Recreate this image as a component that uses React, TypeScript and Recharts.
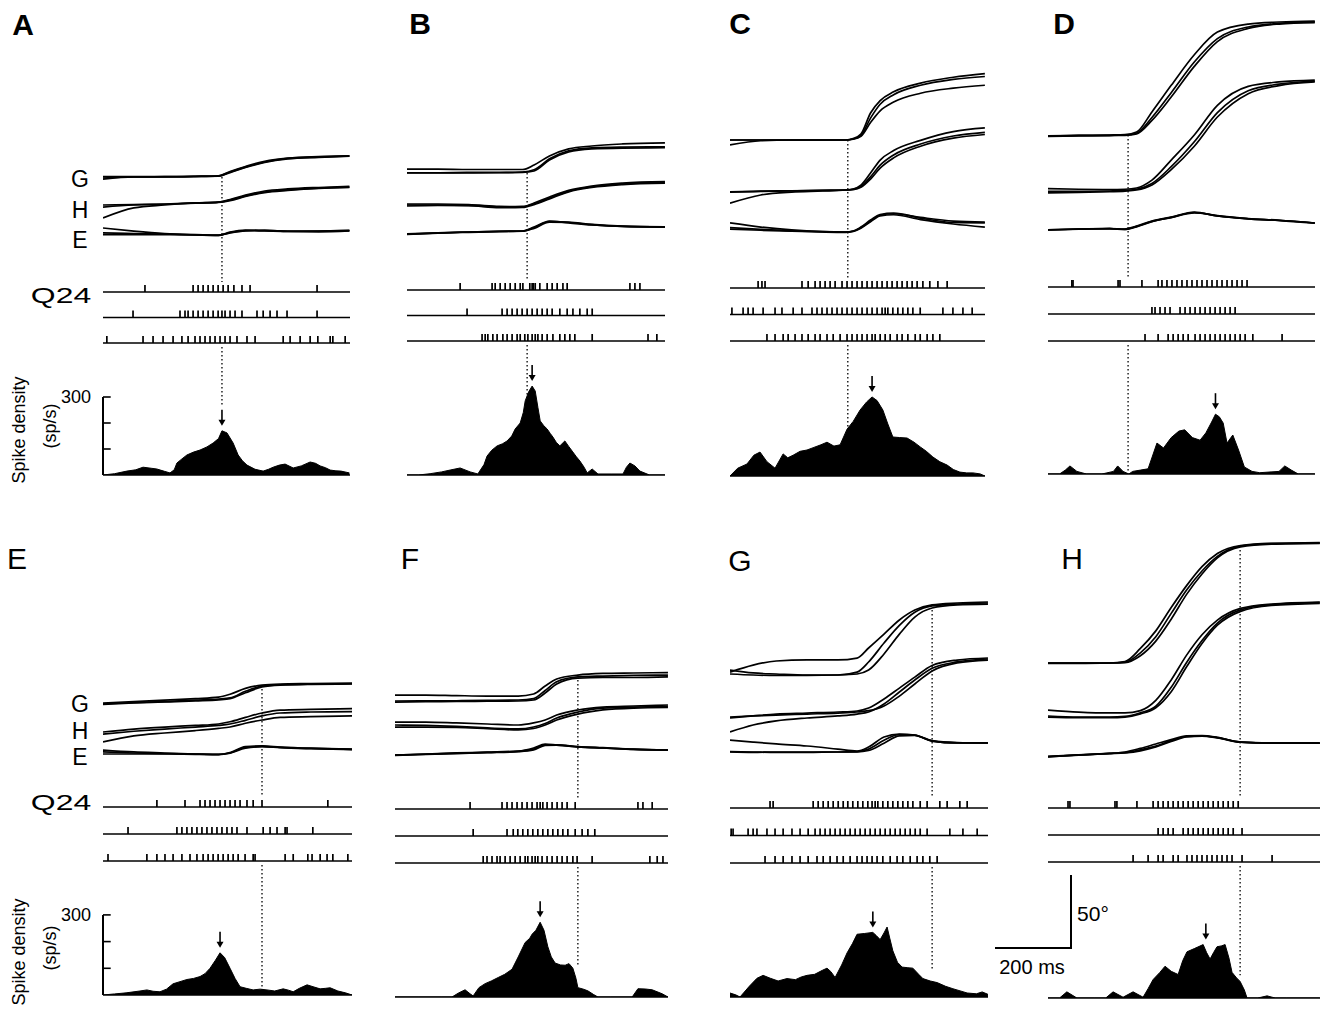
import React from "react"
import {
  LineChart, Line, ScatterChart, Scatter, AreaChart, Area,
  XAxis, YAxis, ReferenceLine, ReferenceDot,
} from "recharts"

const FONT = '"Liberation Sans", Arial, Helvetica, sans-serif'
const MS_PX = 0.385 // px per ms (200 ms scale bar)
const DEG_PX = 1.46 // px per degree (50 deg scale bar)
const M = 3

// ---------- A ----------
const aTime = [0, 80, 160, 240, 300, 330, 370, 420, 480, 560, 640]
const aGaze = [
  [-0.7, 0, 0, 0.3, 0.7, 3.4, 6.8, 10.3, 12.7, 13.7, 14.4],
  [-1.4, 0, 0.2, 0.4, 0.5, 3.0, 6.5, 10.0, 12.4, 13.5, 14.3],
  [0.3, 0.2, 0.3, 0.5, 0.8, 3.8, 7.2, 10.8, 13.0, 14.0, 14.5],
]
const aHead = [
  [-8.9, -2.0, 0, 1.4, 2.0, 3.4, 6.2, 8.9, 10.3, 11.6, 12.3],
  [0, 0.3, 0.7, 1.4, 2.0, 3.8, 6.8, 9.6, 11.0, 12.0, 12.7],
  [-1.4, 0, 0.5, 1.2, 1.8, 3.0, 5.8, 8.5, 10.0, 11.4, 12.0],
]
const aEye = [
  [4.8, 2.7, 1.0, 0, -0.3, 2.0, 3.4, 3.1, 2.7, 2.7, 3.1],
  [1.4, 1.0, 0.7, 0.3, 0, 1.6, 3.0, 2.8, 2.5, 2.7, 3.0],
  [0.3, 0.2, 0.2, 0, -0.2, 1.4, 2.8, 3.2, 2.4, 2.2, 2.8],
]
const aSpikes = [
  [109, 234, 247, 260, 273, 286, 299, 312, 325, 340, 361, 382, 556],
  [78, 200, 213, 221, 234, 247, 260, 273, 286, 299, 309, 317, 330, 343, 361, 400, 416, 434, 452, 478, 556],
  [10, 104, 130, 156, 182, 205, 221, 239, 252, 265, 278, 291, 304, 317, 330, 348, 374, 395, 468, 486, 512, 538, 558, 590, 597, 629],
]
const aDensT = [0, 30, 62, 85, 104, 125, 140, 160, 174, 185, 192, 205, 218, 235, 252, 270, 286, 300, 309, 322, 338, 351, 362, 374, 395, 416, 430, 442, 458, 473, 494, 515, 538, 552, 564, 578, 590, 605, 618, 640]
const aDensV = [0, 5, 15, 20, 30, 26, 23, 14, 8, 20, 46, 62, 77, 88, 96, 108, 123, 140, 170, 162, 123, 77, 55, 38, 22, 15, 22, 30, 38, 42, 27, 35, 50, 45, 35, 28, 19, 16, 15, 8]
const aArrow = { t: 309, v: 170 }

// ---------- B ----------
const bTime = [0, 80, 160, 240, 300, 330, 370, 420, 480, 560, 670]
const bGaze = [
  [2, 2, 1.7, 1.7, 1.7, 4.8, 11, 15.8, 17.8, 19.2, 20],
  [-0.7, -0.7, -0.7, -0.5, -0.3, 0.7, 8.2, 13.7, 15.8, 16.4, 16.6],
  [-0.5, -0.5, -0.3, -0.3, 0, 1.5, 9, 14.5, 16.5, 17, 17.2],
]
const bHead = [
  [0.7, 0.7, 0.3, -1, -1.4, 1.4, 5.5, 10, 13, 15, 16],
  [-0.7, -0.3, -0.5, -1.8, -1.6, 0.3, 4.2, 9, 12, 14, 15],
  [0, 0, -0.3, -1.2, -1, 0.8, 4.8, 9.5, 12.5, 14.5, 15.5],
]
const bEye = [
  [-1.4, -0.7, 0, 0.5, 0.7, 3.4, 7.5, 6.2, 4.8, 3.8, 3.4],
  [-1.2, -0.5, 0, 0.4, 0.7, 2.5, 6.8, 6.5, 5, 3.8, 3.4],
  [-1.6, -0.8, -0.2, 0.3, 0.5, 3, 7.2, 6.8, 5.2, 4, 3.5],
]
const bSpikes = [
  [138, 221, 229, 242, 255, 268, 281, 294, 301, 319, 325, 328, 333, 345, 364, 377, 390, 405, 416, 579, 592, 605],
  [156, 247, 260, 273, 286, 299, 312, 325, 338, 351, 364, 377, 397, 416, 431, 449, 468, 481],
  [195, 203, 210, 223, 234, 249, 260, 273, 286, 294, 306, 314, 325, 333, 340, 351, 364, 379, 397, 410, 423, 436, 481, 626, 649],
]
const bDensT = [0, 30, 60, 90, 112, 138, 164, 184, 200, 208, 220, 234, 248, 260, 272, 281, 294, 302, 307, 316, 325, 333, 340, 346, 355, 364, 372, 379, 388, 397, 410, 420, 429, 440, 449, 460, 468, 481, 496, 530, 561, 570, 579, 592, 605, 630, 670]
const bDensV = [0, 0, 5, 12, 19, 27, 12, 4, 40, 73, 95, 112, 120, 131, 150, 177, 200, 240, 285, 320, 342, 323, 260, 208, 190, 177, 160, 146, 125, 112, 131, 110, 92, 70, 54, 30, 8, 23, 4, 4, 4, 30, 46, 35, 15, 0, 0]
const bArrow = { t: 325, v: 342 }

// ---------- C ----------
const cTime = [0, 80, 160, 240, 300, 320, 340, 365, 390, 425, 495, 580, 662]
const cGaze = [
  [0, 0, 0, 0, 0, 1, 4, 18.5, 27, 33, 39, 43, 45.5],
  [-3.4, -0.5, 0, 0, 0, 0.7, 3, 15, 24.5, 31, 37.5, 41.5, 43.5],
  [0, 0, 0, 0, 0, 0.5, 2.5, 12, 20, 26, 32, 35.5, 37.5],
]
const cHead = [
  [-9, -3.4, -1.4, -0.7, 0, 0.7, 3.4, 11.6, 20.5, 27, 34, 40, 42.5],
  [-1.4, -1, -0.7, -0.3, 0, 0.5, 2.4, 9, 17, 24, 31.5, 37, 39.5],
  [-1.2, -0.8, -0.5, -0.2, 0, 0.3, 1.8, 7.5, 15, 22, 30, 35.5, 38],
]
const cEye = [
  [6.2, 3.4, 1.4, 0.3, 0, 0.7, 3.4, 8.2, 12, 13, 9.5, 6.5, 6.2],
  [3, 1.8, 0.8, 0.2, 0, 0.5, 3, 7.5, 11.5, 12.5, 10, 7.5, 6.8],
  [2, 1.2, 0.5, 0, -0.2, 0.4, 2.6, 7, 11, 11.8, 8.5, 5.5, 3.4],
]
const cSpikes = [
  [73, 83, 91, 187, 203, 221, 234, 247, 260, 273, 291, 304, 317, 330, 343, 356, 369, 382, 395, 408, 421, 434, 447, 460, 473, 486, 501, 519, 540, 564],
  [5, 34, 47, 60, 86, 117, 135, 164, 187, 213, 226, 239, 252, 265, 278, 291, 304, 317, 330, 343, 356, 369, 382, 395, 403, 410, 423, 436, 449, 462, 475, 494, 553, 579, 605, 629],
  [96, 117, 138, 151, 169, 187, 203, 221, 234, 252, 268, 286, 304, 317, 330, 343, 356, 369, 377, 390, 403, 416, 434, 447, 462, 481, 494, 512, 527, 545],
]
const cDensT = [0, 20, 44, 62, 78, 96, 117, 138, 150, 164, 182, 200, 218, 236, 252, 270, 286, 304, 320, 338, 355, 369, 382, 397, 410, 423, 440, 460, 478, 494, 510, 527, 545, 564, 580, 597, 615, 631, 650, 662]
const cDensV = [0, 30, 46, 80, 92, 55, 30, 85, 70, 80, 95, 100, 110, 120, 130, 115, 120, 180, 210, 254, 285, 304, 290, 254, 200, 150, 148, 146, 130, 112, 95, 73, 55, 42, 25, 15, 12, 12, 8, 0]
const cArrow = { t: 369, v: 304 }

// ---------- D ----------
const dTime = [0, 80, 160, 200, 230, 270, 320, 380, 440, 520, 600, 693]
const dGaze = [
  [-0.7, -0.3, 0, 0.3, 2, 15.8, 34, 55, 70.5, 76, 77.4, 78],
  [-0.5, -0.3, -0.2, 0, 1.2, 12, 29, 50, 66, 74, 76.5, 77.5],
  [-1, -0.7, -0.4, -0.2, 0.8, 10, 26, 47, 64, 73, 76, 77],
]
const dHead = [
  [1, 0.5, 0.3, 0.5, 1.4, 6.8, 20.5, 37.7, 58, 71, 74, 75.3],
  [-1, -1, -0.7, -0.3, 0.5, 4.5, 16, 33, 53, 68, 72.5, 74.5],
  [-2, -1.6, -1.2, -0.8, 0, 3.5, 14, 30, 50, 66, 71.5, 74],
]
const dEye = [
  [-0.7, 0, 0.3, 0, 2, 5.5, 8.2, 11.6, 8.9, 7, 6, 4.1],
  [-0.5, 0, 0.2, -0.3, 1.5, 5, 7.8, 11, 9.2, 7.2, 6, 4.1],
  [-0.6, -0.1, 0.2, -0.2, 1.8, 5.2, 8, 11.3, 9, 7, 5.8, 4],
]
const dSpikes = [
  [62, 65, 182, 187, 244, 286, 296, 309, 322, 335, 348, 361, 374, 387, 400, 413, 426, 439, 452, 465, 478, 491, 504, 517],
  [270, 278, 291, 304, 317, 343, 356, 369, 382, 395, 408, 421, 434, 447, 460, 473, 486],
  [252, 286, 312, 325, 338, 351, 364, 382, 395, 408, 421, 434, 447, 460, 473, 486, 499, 512, 532, 608],
]
const dDensT = [0, 30, 45, 57, 75, 100, 140, 170, 181, 195, 210, 220, 240, 260, 283, 300, 320, 340, 355, 375, 395, 410, 425, 435, 445, 455, 465, 480, 495, 510, 530, 550, 600, 615, 632, 650, 693]
const dDensV = [0, 0, 15, 31, 10, 0, 0, 10, 31, 10, 0, 10, 15, 20, 119, 100, 140, 165, 170, 140, 130, 158, 200, 230, 220, 196, 119, 150, 92, 27, 10, 5, 10, 31, 15, 0, 0]
const dArrow = { t: 435, v: 230 }

// ---------- E ----------
const eTime = [0, 80, 160, 240, 300, 330, 370, 413, 460, 540, 647]
const eGaze = [
  [0, 1, 2, 3, 4, 6, 10, 12.3, 13, 13.3, 13.7],
  [-0.5, 0.3, 1, 2, 2.7, 3.5, 8, 11.5, 12.5, 13, 13.2],
  [-1, 0, 0.7, 1.5, 2.2, 3, 7, 11, 12.3, 12.8, 13],
]
const eHead = [
  [0, 2, 3.4, 4.5, 5.5, 7, 10, 13, 15, 15.5, 16],
  [-6.8, -2.7, -0.7, 1, 2.5, 3.4, 6, 8.2, 10, 10.5, 11],
  [-1.4, 0.5, 2, 3.4, 4.5, 5.5, 8, 11, 13, 13.7, 14],
]
const eEye = [
  [2.7, 1.4, 0.7, 0, -0.3, 1, 5, 5.5, 4.8, 4, 3.4],
  [1.4, 0.7, 0.3, 0, -0.3, 0.7, 4.5, 5.2, 4.5, 3.8, 3.2],
  [0, 0, 0, -0.2, -0.5, 0.5, 4, 5, 4.3, 3.6, 3],
]
const eSpikes = [
  [140, 213, 252, 265, 278, 291, 304, 317, 330, 343, 356, 374, 390, 413, 584],
  [65, 192, 205, 218, 231, 244, 257, 270, 283, 296, 309, 322, 335, 348, 374, 416, 434, 452, 473, 478, 545],
  [13, 114, 140, 161, 182, 205, 226, 244, 260, 273, 286, 299, 312, 325, 338, 351, 369, 390, 395, 473, 494, 532, 543, 564, 582, 597, 636],
]
const eDensT = [0, 30, 60, 96, 114, 130, 148, 165, 182, 200, 218, 235, 252, 265, 278, 292, 304, 316, 330, 343, 356, 372, 390, 408, 426, 446, 468, 482, 494, 510, 530, 548, 564, 578, 590, 610, 630, 647]
const eDensV = [0, 4, 8, 15, 19, 14, 12, 22, 42, 50, 58, 62, 69, 80, 100, 130, 158, 140, 100, 62, 31, 25, 19, 22, 19, 15, 23, 18, 12, 25, 38, 30, 23, 25, 27, 15, 8, 0]
const eArrow = { t: 304, v: 158 }

// ---------- F ----------
const fTime = [0, 80, 160, 240, 320, 360, 390, 420, 475, 540, 620, 709]
const fGaze = [
  [3.4, 3.4, 3, 2.7, 2.7, 4.1, 9.6, 14.4, 17.1, 18.2, 18.5, 18.8],
  [-1.4, -1.2, -1, -0.8, -0.7, 0, 4.8, 11, 15, 15.4, 15.4, 15.8],
  [-0.7, -0.5, -0.5, -0.3, 0, 1, 6.5, 12.5, 15.8, 16.4, 16.8, 17.1],
]
const fHead = [
  [2, 2, 1.4, 0.7, 0, 1.4, 3.4, 6.8, 10.3, 12.3, 13, 13.7],
  [0, -0.3, -1, -2, -2.7, -1.4, 1, 4.8, 8.9, 11.6, 12.3, 12.7],
  [-1.4, -1.4, -1.6, -2.5, -3.4, -2.4, 0, 3.4, 7.5, 10.3, 11.6, 12],
]
const fEye = [
  [0, 0.7, 1.4, 2, 2.7, 4.8, 7.5, 6.8, 5.5, 4.8, 3.8, 3.4],
  [0, 0.5, 1.2, 1.8, 2.5, 4, 7, 7, 5.8, 5, 4, 3.4],
  [-0.3, 0.4, 1, 1.6, 2.3, 3.5, 6.5, 6.8, 5.6, 4.8, 3.9, 3.3],
]
const fSpikes = [
  [195, 278, 291, 304, 317, 330, 343, 356, 369, 377, 384, 395, 408, 421, 434, 447, 468, 631, 644, 668],
  [203, 291, 307, 319, 332, 345, 358, 371, 384, 397, 410, 423, 436, 449, 468, 486, 501, 519],
  [229, 239, 252, 265, 273, 286, 299, 312, 325, 338, 345, 356, 364, 371, 382, 395, 408, 421, 434, 447, 462, 473, 512, 662, 681, 696],
]
const fDensT = [0, 60, 120, 148, 165, 182, 195, 203, 218, 234, 250, 268, 285, 304, 320, 338, 350, 356, 366, 377, 387, 397, 406, 416, 430, 442, 452, 462, 470, 475, 488, 501, 515, 527, 560, 600, 616, 631, 650, 668, 694, 709]
const fDensV = [0, 0, 0, 0, 15, 27, 12, 4, 35, 50, 60, 73, 85, 104, 150, 204, 220, 235, 250, 280, 250, 188, 150, 127, 120, 119, 125, 108, 70, 35, 30, 23, 10, 0, 0, 0, 0, 31, 30, 27, 12, 0]
const fArrow = { t: 377, v: 280 }

// ---------- G ----------
const gTime = [0, 60, 120, 200, 280, 330, 360, 400, 440, 480, 525, 590, 670]
const gGaze = [
  [2, 6.8, 9.6, 10.3, 10.3, 11.6, 18.5, 28, 37.7, 44.5, 48, 49.3, 50],
  [3.4, 1.4, 0.7, 0, 0, 2, 8.9, 21.9, 34, 43, 47.3, 48.6, 49.3],
  [0.7, 0, -0.3, -0.3, 0, 0.7, 3.4, 14.4, 28, 39.7, 45.9, 48, 48.6],
]
const gHead = [
  [0, 1.4, 2.7, 3.4, 4.1, 4.8, 6.8, 13, 20.5, 28, 36, 39.7, 41.1],
  [-9.6, -4.8, -2, 0, 1.4, 2.7, 4.1, 9.6, 17.8, 26, 34, 38.4, 40.4],
  [0.7, 1.4, 2, 2.7, 3.4, 4.1, 5, 8.2, 15, 23.3, 32.2, 37.7, 39.7],
]
const gEye = [
  [8.2, 6.8, 5.5, 4.1, 2, 0.7, 3.4, 10.3, 12.3, 11.6, 7.5, 6.2, 6.2],
  [0, -0.3, 0, 0, 0, 0.3, 2, 8, 12, 11.5, 7.5, 6.2, 6.2],
  [0.3, 0, -0.3, -0.3, 0, 0, 1, 6, 11, 11.3, 7.8, 6.5, 6.2],
]
const gSpikes = [
  [104, 112, 216, 229, 242, 255, 268, 281, 294, 306, 319, 332, 345, 358, 369, 377, 384, 397, 410, 423, 436, 449, 462, 475, 494, 512, 545, 564, 597, 616],
  [3, 8, 47, 60, 70, 96, 117, 138, 161, 182, 203, 221, 234, 247, 260, 273, 286, 299, 312, 325, 338, 351, 364, 377, 390, 403, 416, 429, 442, 455, 468, 481, 494, 512, 571, 605, 642],
  [91, 117, 138, 161, 182, 203, 226, 242, 260, 278, 294, 312, 330, 343, 356, 369, 382, 397, 416, 434, 449, 468, 486, 501, 519, 538],
]
const gDensT = [0, 15, 26, 50, 70, 86, 105, 125, 148, 170, 185, 200, 220, 240, 252, 262, 273, 290, 304, 318, 330, 350, 371, 380, 390, 400, 408, 415, 423, 435, 447, 460, 475, 490, 501, 520, 538, 560, 579, 600, 616, 640, 655, 670]
const gDensV = [15, 8, 0, 40, 70, 81, 70, 60, 69, 65, 75, 81, 85, 100, 108, 95, 73, 120, 165, 200, 235, 238, 242, 230, 215, 240, 262, 220, 173, 130, 112, 110, 108, 85, 69, 60, 54, 40, 31, 22, 15, 12, 19, 10]
const gArrow = { t: 371, v: 242 }

// ---------- H ----------
const hTime = [0, 80, 160, 200, 240, 280, 320, 360, 400, 440, 500, 580, 706]
const hGaze = [
  [0, 0, 0, 1, 10, 22, 38, 53, 66, 75, 80.5, 82, 82.5],
  [0, 0, 0, 0.5, 7, 18, 34, 50, 63, 73, 80, 81.7, 82.2],
  [-0.3, -0.3, 0, 0.3, 5, 15, 30, 47, 61, 72, 79.5, 81.4, 82],
]
const hHead = [
  [3.4, 2, 1.4, 1.4, 3, 10, 24, 41, 55, 65, 73, 76, 77.4],
  [-0.7, -1.4, -1.4, -1, 1.5, 6, 19, 36, 51, 63, 72, 75.5, 77],
  [-1.4, -1.8, -1.8, -1.4, 0.8, 5, 16, 33, 49, 61.5, 71, 75, 76.5],
]
const hEye = [
  [-3.4, -2, -1, 0, 2.5, 5.5, 8.5, 11, 11.3, 10, 6.8, 6.2, 6.2],
  [-3, -2, -1, -0.4, 1.5, 4, 7.8, 10.6, 11, 9.8, 6.8, 6.2, 6],
  [-3.2, -2.1, -1.1, -0.6, 0.8, 3.4, 7.2, 10.3, 10.9, 9.7, 6.7, 6.1, 6.1],
]
const hSpikes = [
  [52, 57, 174, 179, 231, 273, 286, 299, 312, 325, 338, 351, 364, 377, 390, 403, 416, 429, 442, 455, 468, 481, 494],
  [286, 299, 312, 325, 351, 364, 377, 390, 403, 416, 429, 442, 455, 468, 481, 504],
  [221, 260, 286, 299, 325, 338, 361, 374, 387, 400, 413, 426, 439, 452, 465, 478, 504, 582],
]
const hDensT = [0, 30, 49, 75, 120, 150, 169, 195, 221, 247, 260, 273, 290, 304, 320, 338, 350, 361, 380, 403, 412, 421, 430, 439, 450, 460, 470, 478, 490, 499, 510, 517, 545, 569, 590, 620, 706]
const hDensV = [0, 0, 23, 0, 0, 0, 23, 3, 23, 3, 35, 69, 95, 119, 100, 88, 140, 173, 185, 200, 170, 146, 170, 192, 195, 200, 150, 96, 75, 62, 30, 0, 0, 8, 0, 0, 0]
const hArrow = { t: 410, v: 200 }

// layout of each panel (page pixels) + which data it shows
const panels = [
  { id: "A", bold: true, lx: 23, ly: 25, x0: 103, x1: 350, top: 140, zeros: [177, 205, 235], rows: [292, 317, 343], base: 475, sps: 0.26, markT: 309, markDeg: 0, markEnd: 267, axis: true, time: aTime, gaze: aGaze, head: aHead, eye: aEye, spikes: aSpikes, densT: aDensT, densV: aDensV, arrow: aArrow },
  { id: "B", bold: true, lx: 420, ly: 24, x0: 407, x1: 665, top: 120, zeros: [172, 205, 232], rows: [290, 316, 341], base: 475, sps: 0.26, markT: 312, markDeg: -0.7, markEnd: 290, axis: false, time: bTime, gaze: bGaze, head: bHead, eye: bEye, spikes: bSpikes, densT: bDensT, densV: bDensV, arrow: bArrow },
  { id: "C", bold: true, lx: 740, ly: 24, x0: 730, x1: 985, top: 55, zeros: [140, 190, 232], rows: [288, 314, 341], base: 476, sps: 0.26, markT: 306, markDeg: 0, markEnd: 172, axis: false, time: cTime, gaze: cGaze, head: cHead, eye: cEye, spikes: cSpikes, densT: cDensT, densV: cDensV, arrow: cArrow },
  { id: "D", bold: true, lx: 1064, ly: 24, x0: 1048, x1: 1315, top: 8, zeros: [135, 190, 229], rows: [287, 315, 341], base: 474, sps: 0.26, markT: 208, markDeg: 0, markEnd: 12, axis: false, time: dTime, gaze: dGaze, head: dHead, eye: dEye, spikes: dSpikes, densT: dDensT, densV: dDensV, arrow: dArrow },
  { id: "E", bold: false, lx: 17, ly: 559, x0: 103, x1: 352, top: 660, zeros: [703, 732, 754], rows: [807, 833, 861], base: 995, sps: 0.267, markT: 413, markDeg: 12.3, markEnd: 8, axis: true, time: eTime, gaze: eGaze, head: eHead, eye: eEye, spikes: eSpikes, densT: eDensT, densV: eDensV, arrow: eArrow },
  { id: "F", bold: false, lx: 410, ly: 559, x0: 395, x1: 668, top: 650, zeros: [700, 725, 755], rows: [809, 836, 863], base: 997, sps: 0.267, markT: 475, markDeg: 13.7, markEnd: 118, axis: false, time: fTime, gaze: fGaze, head: fHead, eye: fEye, spikes: fSpikes, densT: fDensT, densV: fDensV, arrow: fArrow },
  { id: "G", bold: false, lx: 740, ly: 561, x0: 730, x1: 988, top: 590, zeros: [675, 718, 752], rows: [808, 835, 863], base: 997, sps: 0.267, markT: 525, markDeg: 44.5, markEnd: 98, axis: false, time: gTime, gaze: gGaze, head: gHead, eye: gEye, spikes: gSpikes, densT: gDensT, densV: gDensV, arrow: gArrow },
  { id: "H", bold: false, lx: 1072, ly: 559, x0: 1048, x1: 1320, top: 530, zeros: [663, 715, 752], rows: [808, 835, 862], base: 998, sps: 0.267, markT: 499, markDeg: 77.4, markEnd: 85, axis: false, time: hTime, gaze: hGaze, head: hHead, eye: hEye, spikes: hSpikes, densT: hDensT, densV: hDensV, arrow: hArrow },
]

const DOTS = "1.5 2.5"

const SpikeTick = (props: any) => (
  <line x1={props.cx} x2={props.cx} y1={props.cy} y2={props.cy - 7} stroke="#000" strokeWidth={1.7} />
)

const Arrow = (props: any) => {
  const { cx, cy } = props
  return (
    <g>
      <line x1={cx} x2={cx} y1={cy - 21} y2={cy - 10} stroke="#000" strokeWidth={1.6} />
      <path d={`M${cx - 3.5},${cy - 11} L${cx + 3.5},${cy - 11} L${cx},${cy - 5} Z`} fill="#000" />
    </g>
  )
}

function Traces({ p }: any) {
  const w = p.x1 - p.x0
  const bottom = p.rows[0] - 10
  const h = bottom - p.top
  const dur = w / MS_PX
  const dom = (zero: number) => [-(bottom - zero) / DEG_PX, (zero - p.top) / DEG_PX]
  const data = p.time.map((t: number, i: number) => ({
    t,
    g0: p.gaze[0][i], g1: p.gaze[1][i], g2: p.gaze[2][i],
    h0: p.head[0][i], h1: p.head[1][i], h2: p.head[2][i],
    e0: p.eye[0][i], e1: p.eye[1][i], e2: p.eye[2][i],
  }))
  const ids = ["g", "h", "e"]
  return (
    <div style={{ position: "absolute", left: p.x0 - M, top: p.top - M }}>
      <LineChart width={w + 2 * M} height={h + 2 * M} data={data} margin={{ top: M, right: M, bottom: M, left: M }}>
        <XAxis type="number" dataKey="t" domain={[0, dur]} scale="linear" allowDataOverflow hide />
        {ids.map((id, k) => (
          <YAxis key={id} yAxisId={id} type="number" domain={dom(p.zeros[k])} scale="linear" allowDataOverflow hide />
        ))}
        {ids.map((id) =>
          [0, 1, 2].map((k) => (
            <Line key={id + k} yAxisId={id} dataKey={id + k} type="monotone" stroke="#000" strokeWidth={1.7}
              dot={false} activeDot={false} isAnimationActive={false} />
          ))
        )}
        <ReferenceLine yAxisId="g" segment={[{ x: p.markT, y: p.markDeg }, { x: p.markT, y: dom(p.zeros[0])[0] }]}
          stroke="#000" strokeWidth={1.3} strokeDasharray={DOTS} />
      </LineChart>
    </div>
  )
}

function Raster({ p }: any) {
  const w = p.x1 - p.x0
  const dur = w / MS_PX
  const s = (p.rows[2] - p.rows[0]) / 2
  const top = p.rows[0] - 14
  const bottom = p.rows[2] + 3
  const lo = 1 - 14 / s
  const hi = 3 + 3 / s
  return (
    <div style={{ position: "absolute", left: p.x0 - M, top: top - M }}>
      <ScatterChart width={w + 2 * M} height={bottom - top + 2 * M} margin={{ top: M, right: M, bottom: M, left: M }}>
        <XAxis type="number" dataKey="t" domain={[0, dur]} scale="linear" allowDataOverflow hide />
        <YAxis type="number" dataKey="row" domain={[lo, hi]} reversed scale="linear" allowDataOverflow hide />
        {[1, 2, 3].map((r) => (
          <ReferenceLine key={r} y={r} stroke="#000" strokeWidth={1.4} />
        ))}
        {p.spikes.map((row: number[], k: number) => (
          <Scatter key={k} data={row.map((t) => ({ t, row: k + 1 }))} shape={SpikeTick} isAnimationActive={false} />
        ))}
      </ScatterChart>
    </div>
  )
}

function Density({ p }: any) {
  const w = p.x1 - p.x0
  const dur = w / MS_PX
  const top = p.rows[2] + 4
  const h = p.base - top
  const ymax = h / p.sps
  const data = p.densT.map((t: number, i: number) => ({ t, v: p.densV[i] }))
  const tick = 20
  const left = p.axis ? 50 : M
  return (
    <div style={{ position: "absolute", left: p.x0 - left, top: top - M }}>
      <AreaChart width={w + left + M} height={h + 2 * M} data={data} margin={{ top: M, right: M, bottom: M, left }}>
        <XAxis type="number" dataKey="t" domain={[0, dur]} scale="linear" allowDataOverflow hide />
        <YAxis type="number" domain={[0, ymax]} scale="linear" allowDataOverflow hide />
        <Area type="linear" dataKey="v" stroke="#000" strokeWidth={1} fill="#000" fillOpacity={1}
          dot={false} activeDot={false} isAnimationActive={false} />
        <ReferenceLine y={0} stroke="#000" strokeWidth={1.5} />
        <ReferenceLine segment={[{ x: p.markT, y: ymax }, { x: p.markT, y: p.markEnd }]}
          stroke="#000" strokeWidth={1.3} strokeDasharray={DOTS} />
        <ReferenceDot x={p.arrow.t} y={p.arrow.v} shape={Arrow} />
        {p.axis && <ReferenceLine segment={[{ x: 0, y: 0 }, { x: 0, y: 300 }]} stroke="#000" strokeWidth={2} />}
        {p.axis && [100, 200, 300].map((v) => (
          <ReferenceLine key={v} segment={[{ x: 0, y: v }, { x: tick, y: v }]} stroke="#000" strokeWidth={1.6}
            label={v === 300 ? { value: "300", position: "left", offset: 12, fontSize: 18, fill: "#000", fontFamily: FONT } : undefined} />
        ))}
      </AreaChart>
    </div>
  )
}

function Txt({ x, y, size, bold, rotate, sx, children }: any) {
  const tf = `translate(-50%, -50%)${rotate ? " rotate(-90deg)" : ""}${sx ? ` scaleX(${sx})` : ""}`
  return (
    <div style={{ position: "absolute", left: x, top: y, transform: tf, fontSize: size, fontWeight: bold ? 700 : 400,
      lineHeight: 1, whiteSpace: "nowrap", fontFamily: FONT, color: "#000" }}>
      {children}
    </div>
  )
}

export default function App() {
  return (
    <div style={{ position: "absolute", left: 0, top: 0, width: 1323, height: 1019, background: "#fff", overflow: "hidden" }}>
      {panels.map((p) => (
        <React.Fragment key={p.id}>
          <Txt x={p.lx} y={p.ly} size={30} bold={p.bold}>{p.id}</Txt>
          <Traces p={p} />
          <Raster p={p} />
          <Density p={p} />
        </React.Fragment>
      ))}

      {[{ g: 179, h: 210, e: 240, q: 296, sd: 430 }, { g: 704, h: 731, e: 757, q: 803, sd: 952 }].map((r, i) => (
        <React.Fragment key={i}>
          <Txt x={80} y={r.g} size={23}>G</Txt>
          <Txt x={80} y={r.h} size={23}>H</Txt>
          <Txt x={80} y={r.e} size={23}>E</Txt>
          <Txt x={61} y={r.q} size={22} sx={1.45}>Q24</Txt>
          <Txt x={19} y={r.sd} size={18} rotate>Spike density</Txt>
          <Txt x={50} y={r.sd - 4} size={18} rotate>(sp/s)</Txt>
        </React.Fragment>
      ))}

      {/* calibration bars */}
      <div style={{ position: "absolute", left: 1070, top: 875, width: 2, height: 74, background: "#000" }} />
      <div style={{ position: "absolute", left: 995, top: 947, width: 77, height: 2, background: "#000" }} />
      <Txt x={1093} y={913} size={21}>50°</Txt>
      <Txt x={1032} y={967} size={20}>200 ms</Txt>
    </div>
  )
}
